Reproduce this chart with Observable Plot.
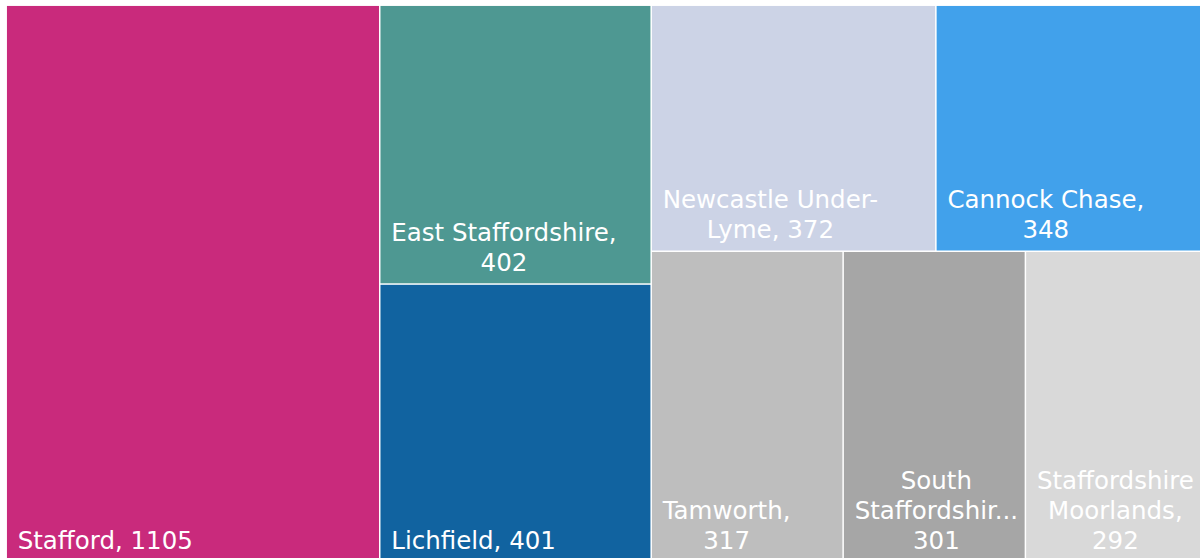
<!DOCTYPE html>
<html>
<head>
<meta charset="utf-8">
<script src="https://cdn.jsdelivr.net/npm/d3@7"></script>
<script src="https://cdn.jsdelivr.net/npm/@observablehq/plot@0.6"></script>
<style>
  html, body { margin: 0; padding: 0; background: #ffffff; overflow: hidden; }
  #chart svg { display: block; overflow: hidden; }
</style>
</head>
<body>
<div id="chart"></div>
<script>
// ---- data ----
const districts = ["Stafford", "East Staffordshire", "Lichfield", "Newcastle Under-Lyme",
  "Cannock Chase", "Tamworth", "South Staffordshire", "Staffordshire Moorlands"];
const counts = [1105, 402, 401, 372, 348, 317, 301, 292];
const colors = ["#C92A7C", "#4E9892", "#1163A0", "#CCD3E6", "#41A1EB", "#BEBEBE", "#A6A6A6", "#D9D9D9"];
// label text as it is wrapped / truncated in the reference
const labelLines = [
  ["Stafford, 1105"],
  ["East Staffordshire,", "402"],
  ["Lichfield, 401"],
  ["Newcastle Under-", "Lyme, 372"],
  ["Cannock Chase,", "348"],
  ["Tamworth,", "317"],
  ["South", "Staffordshir...", "301"],
  ["Staffordshire", "Moorlands,", "292"]
];

// ---- layout ----
const W = 1196, H = 557, X0 = 6.2, Y0 = 5.2;
const FONT_SIZE = 24.5, LINE_PX = 30;
const FONT_FAMILY = "DejaVu Sans";

const items = districts.map((name, i) => ({name, value: counts[i], color: colors[i], lines: labelLines[i]}));
const root = d3.hierarchy({children: items}).sum(d => d.value ?? 0);
d3.treemap().tile(d3.treemapSquarify.ratio(1)).size([W, H]).round(false)(root);

const rects = root.leaves().map(l => ({
  name: l.data.name,
  color: l.data.color,
  lines: l.data.lines,
  x1: X0 + l.x0, x2: X0 + l.x1,
  y1: Y0 + l.y0, y2: Y0 + l.y1
}));

const ctx = document.createElement("canvas").getContext("2d");
ctx.font = `${FONT_SIZE}px "${FONT_FAMILY}"`;
const labels = rects.map(r => {
  const maxW = d3.max(r.lines, s => ctx.measureText(s).width);
  return {
    text: r.lines.join("\n"),
    x: r.x1 + 11 + maxW / 2,
    y: r.y2 - 14
  };
});

const chart = Plot.plot({
  width: 1200,
  height: 558,
  margin: 0,
  x: {type: "linear", domain: [0, 1200], range: [0, 1200], axis: null},
  y: {type: "linear", domain: [0, 558], range: [0, 558], axis: null},
  style: {background: "#ffffff"},
  marks: [
    Plot.rect(rects, {x1: "x1", x2: "x2", y1: "y1", y2: "y2", fill: "color", inset: 0.75}),
    Plot.text(labels, {
      x: "x", y: "y", text: "text",
      textAnchor: "middle", lineAnchor: "bottom",
      lineHeight: LINE_PX / FONT_SIZE,
      fontSize: FONT_SIZE, fontFamily: FONT_FAMILY,
      fill: "#ffffff"
    })
  ]
});
document.getElementById("chart").appendChild(chart);
</script>
</body>
</html>
